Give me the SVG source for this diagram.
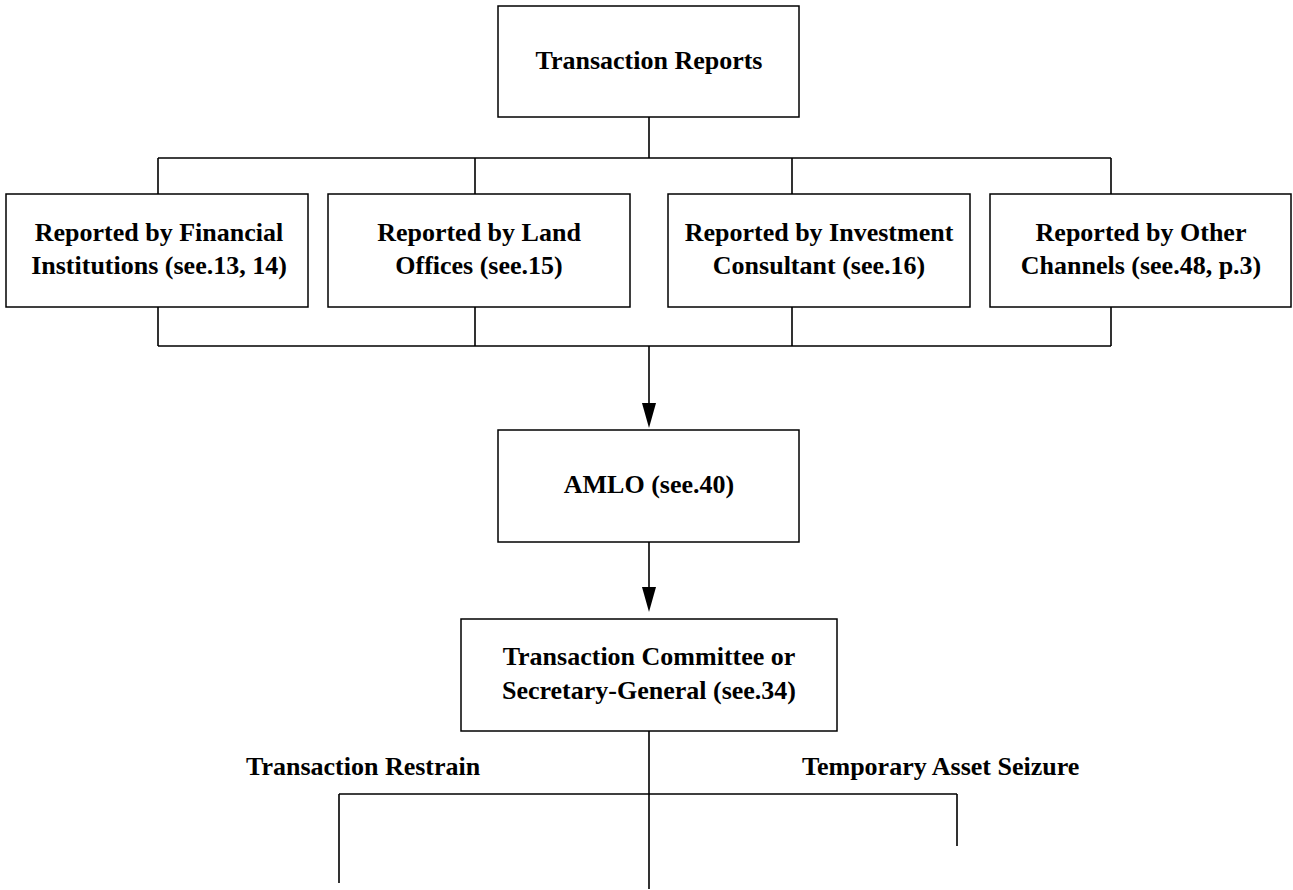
<svg xmlns="http://www.w3.org/2000/svg" width="1293" height="890" viewBox="0 0 1293 890">
<style>
.box{fill:#fff;stroke:#000;stroke-width:1.5}
.ln{fill:none;stroke:#000;stroke-width:1.6}
text{font-family:"Liberation Serif","Times New Roman",serif;font-weight:bold;font-size:26px;fill:#000}
.c{text-anchor:middle}
</style>
<defs>
<marker id="ah" markerWidth="14" markerHeight="26" refX="7" refY="25" orient="auto-start-reverse" markerUnits="userSpaceOnUse" viewBox="0 0 14 26">
<polygon points="0,0 14,0 7,26" fill="#000"/>
</marker>
</defs>
<rect width="1293" height="890" fill="#fff"/>
<g id="connectors">
<path class="ln" d="M649,117 V158 M158,158 H1111 M158,158 V194 M475,158 V194 M792,158 V194 M1111,158 V194"/>
<path class="ln" d="M158,307 V346 M475,307 V346 M792,307 V346 M1111,307 V346 M158,346 H1111"/>
<line class="ln" x1="649" y1="346" x2="649" y2="403"/>
<polygon points="642,403 656,403 649,428" fill="#000"/>
<line class="ln" x1="649" y1="542" x2="649" y2="587"/>
<polygon points="642,587 656,587 649,612" fill="#000"/>
<path class="ln" d="M649,731 V889 M339,794 H957 M339,794 V883 M957,794 V846"/>
</g>
<g id="n-reports"><rect class="box" x="498" y="6" width="301" height="111"/><text class="c" x="649" y="69">Transaction Reports</text></g>
<g id="n-financial"><rect class="box" x="6" y="194" width="302" height="113"/><text class="c" x="159" y="241">Reported by Financial</text><text class="c" x="159" y="274">Institutions (see.13, 14)</text></g>
<g id="n-land"><rect class="box" x="328" y="194" width="302" height="113"/><text class="c" x="479" y="241">Reported by Land</text><text class="c" x="479" y="274">Offices (see.15)</text></g>
<g id="n-invest"><rect class="box" x="668" y="194" width="302" height="113"/><text class="c" x="819" y="241">Reported by Investment</text><text class="c" x="819" y="274">Consultant (see.16)</text></g>
<g id="n-other"><rect class="box" x="990" y="194" width="301" height="113"/><text class="c" x="1141" y="241">Reported by Other</text><text class="c" x="1141" y="274">Channels (see.48, p.3)</text></g>
<g id="n-amlo"><rect class="box" x="498" y="430" width="301" height="112"/><text class="c" x="649" y="493">AMLO (see.40)</text></g>
<g id="n-committee"><rect class="box" x="461" y="619" width="376" height="112"/><text class="c" x="649" y="665">Transaction Committee or</text><text class="c" x="649" y="699">Secretary-General (see.34)</text></g>
<g id="labels"><text x="246" y="775">Transaction Restrain</text><text x="802" y="775">Temporary Asset Seizure</text></g>
</svg>
